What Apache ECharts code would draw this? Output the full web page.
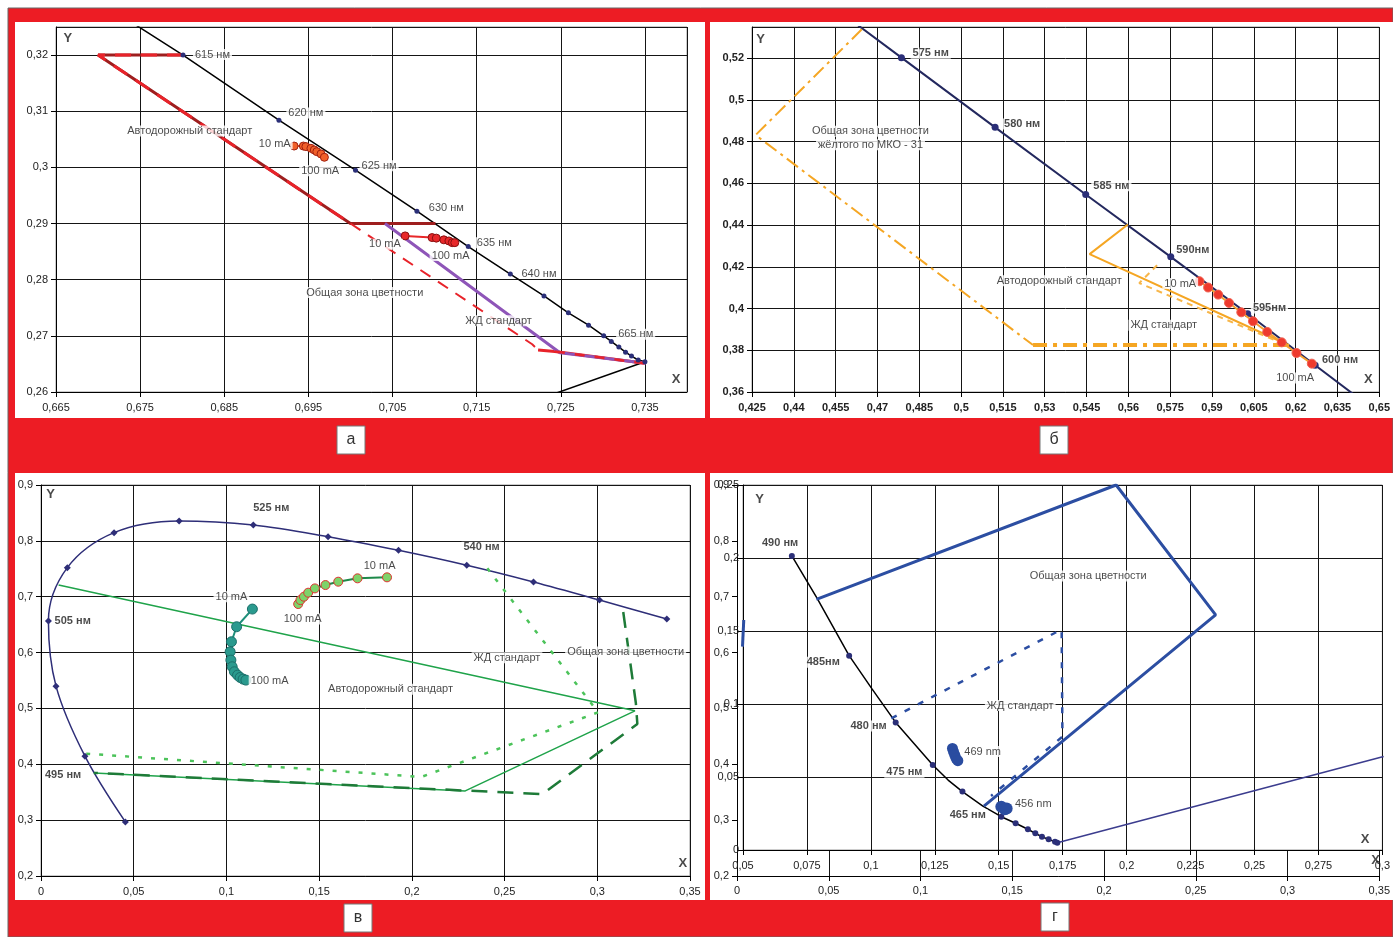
<!DOCTYPE html>
<html>
<head>
<meta charset="utf-8">
<script src="https://cdn.jsdelivr.net/npm/echarts@6/dist/echarts.min.js"></script>
<style>
    html, body { margin: 0; padding: 0; background: #fff; }
    #main { width: 1393px; height: 937px; }
</style>
</head>
<body>
<div id="main"></div>
<script>
// ---- panel а (red LEDs) ----
var aLocus = [[0.6735,0.3263],[0.6801,0.3200],[0.6915,0.3084],[0.7006,0.2995],[0.7079,0.2922],[0.7140,0.2859],
    [0.7190,0.2810],[0.7230,0.2771],[0.7259,0.2741],[0.7283,0.2719],[0.7301,0.2700],[0.7310,0.2690],
    [0.7319,0.2680],[0.7327,0.2671],[0.7334,0.2664],[0.7342,0.2657],[0.7350,0.2654]];
var aPurples = [[0.7350,0.2654],[0.7235,0.2593]];
var aRoad = [[0.6801,0.3200],[0.6700,0.3200],[0.7000,0.2900],[0.7101,0.2900]];
var aCommon = [[0.7000,0.2900],[0.7216,0.2685],[0.7223,0.2675],[0.7243,0.2672],[0.7350,0.2651]];
var aRail = [[0.7041,0.2900],[0.7249,0.2670],[0.7351,0.2651]];
var aLed1 = [[0.6933,0.3038],[0.6944,0.3038],[0.6947,0.3037],[0.6953,0.3034],[0.6957,0.3031],[0.6960,0.3028],[0.6965,0.3024],[0.6969,0.3018]];
var aLed2 = [[0.7065,0.2878],[0.7097,0.2875],[0.7102,0.2874],[0.7111,0.2871],[0.7117,0.2869],[0.7121,0.2866],[0.7124,0.2866]];
var aText = [[0.6836,0.3201,'615 нм'],[0.6947,0.3097,'620 нм'],[0.7034,0.3003,'625 нм'],[0.7114,0.2928,'630 нм'],
    [0.7171,0.2866,'635 нм'],[0.7224,0.2811,'640 нм'],[0.7339,0.2703,'665 нм'],
    [0.6809,0.3065,'Автодорожный стандарт'],[0.7017,0.2777,'Общая зона цветности'],[0.7176,0.2727,'ЖД стандарт'],
    [0.6910,0.3042,'10 mA'],[0.6964,0.2994,'100 mA'],[0.7041,0.2863,'10 mA'],[0.7119,0.2843,'100 mA']];
var aXY = [[0.6664,0.3230,'Y'],[0.7387,0.2623,'X']];

// ---- panel б (yellow LEDs) ----
var bLocus = [[0.4441,0.5547],[0.4786,0.5203],[0.5122,0.4869],[0.5447,0.4547],[0.5752,0.4248],[0.6028,0.3975],[0.6270,0.3728],[0.6482,0.3514]];
var bCommon = [[0.4644,0.5339],[0.4263,0.4832],[0.5258,0.3825],[0.6188,0.3825]];
var bRoad = [[0.5598,0.4403],[0.5461,0.4261],[0.6176,0.3824]];
var bRail = [[0.5703,0.4208],[0.5639,0.4122],[0.6176,0.3820]];
var bLed = [[0.5855,0.4131],[0.5886,0.4101],[0.5922,0.4067],[0.5961,0.4027],[0.6005,0.3982],[0.6047,0.3939],
    [0.6098,0.3888],[0.6150,0.3838],[0.6203,0.3787],[0.6258,0.3736]];
var bTextBold = [[0.4891,0.5224,'575 нм'],[0.5219,0.4885,'580 нм'],[0.5539,0.4589,'585 нм'],[0.5831,0.4283,'590нм'],
    [0.6106,0.4003,'595нм'],[0.6359,0.3752,'600 нм']];
var bText = [[0.4675,0.4850,'Общая зона цветности'],[0.4675,0.4786,'жёлтого по МКО - 31'],[0.5352,0.4133,'Автодорожный стандарт'],
    [0.5727,0.3920,'ЖД стандарт'],[0.5786,0.4120,'10 mA'],[0.6198,0.3667,'100 mA']];
var bXY = [[0.4281,0.5291,'Y'],[0.6461,0.3659,'X']];

// ---- panel в (green LEDs) ----
var cLocus = [[0.0455,0.2968],[0.0237,0.4145],[0.0081,0.5399],[0.0040,0.6564],[0.0142,0.7520],[0.0394,0.8147],
    [0.0745,0.8356],[0.1145,0.8284],[0.1548,0.8075],[0.1928,0.7830],[0.2296,0.7562],[0.2656,0.7263],[0.3012,0.6940],[0.3375,0.6600]];
var cRoad = [[0.0095,0.7209],[0.3203,0.4957],[0.2288,0.3523],[0.0285,0.3846]];
var cCommon = [[0.3140,0.6726],[0.3208,0.5097],[0.3216,0.4722],[0.2703,0.3464],[0.0285,0.3846]];
var cRail = [[0.2407,0.7508],[0.3005,0.4930],[0.2051,0.3774],[0.0237,0.4192]];
var cLedA = [[0.1140,0.6779],[0.1055,0.6462],[0.1027,0.6194],[0.1020,0.6014],[0.1024,0.5865],[0.1031,0.5746],
    [0.1043,0.5656],[0.1060,0.5596],[0.1074,0.5554],[0.1090,0.5525],[0.1105,0.5507]];
var cLedB = [[0.1387,0.6869],[0.1399,0.6940],[0.1418,0.7000],[0.1441,0.7072],[0.1477,0.7149],[0.1534,0.7209],
    [0.1603,0.7269],[0.1707,0.7329],[0.1866,0.7347]];
var cTextBold = [[0.1242,0.8583,'525 нм'],[0.2376,0.7884,'540 нм'],[0.0171,0.6564,'505 нм'],[0.0119,0.3804,'495 нм']];
var cText = [[0.1826,0.7556,'10 mA'],[0.1411,0.6600,'100 mA'],[0.1027,0.7000,'10 mA'],[0.1233,0.5489,'100 mA'],
    [0.2513,0.5907,'ЖД стандарт'],[0.3153,0.6008,'Общая зона цветности'],[0.1885,0.5345,'Автодорожный стандарт']];
var cXY = [[0.0052,0.8840,'Y'],[0.3462,0.2221,'X']];

// ---- panel г (blue LEDs), inner axes ----
var dLocus = [[0.0691,0.2014],[0.0790,0.1724],[0.0915,0.1331],[0.1003,0.1107],[0.1097,0.0874],[0.1166,0.0735],
    [0.1242,0.0582],[0.1302,0.0479],[0.1358,0.0400],[0.1438,0.0301],[0.1510,0.0228],[0.1566,0.0183],
    [0.1614,0.0142],[0.1643,0.0114],[0.1669,0.0091],[0.1695,0.0073],[0.1720,0.0057],[0.1729,0.0050]];
var dMarkIdx = [0, 2, 4, 6, 8, 10, 11, 12, 13, 14, 15, 16, 17];
var dCommon = [[0.0787,0.1717],[0.1959,0.2500],[0.2348,0.1610],[0.1442,0.0301]];
var dRail = [[0.1080,0.0902],[0.1746,0.1511],[0.1749,0.0776],[0.1470,0.0370]];
var dPurples = [[0.1729,0.0050],[0.3005,0.0640]];
var dFrag = [[0.0503,0.1575],[0.0498,0.1393]];
var dBlob469 = [[0.1319,0.0696],[0.1323,0.0674],[0.1328,0.0651],[0.1333,0.0628],[0.1340,0.0612]];
var dBlob456 = [[0.1510,0.0297],[0.1524,0.0279],[0.1531,0.0285]];
var dTextBold = [[0.0645,0.2105,'490 нм'],[0.0814,0.1286,'485нм'],[0.0991,0.0849,'480 нм'],[0.1131,0.0532,'475 нм'],[0.1379,0.0240,'465 нм']];
var dText = [[0.1437,0.0674,'469 nm'],[0.1635,0.0313,'456 nm'],[0.1850,0.1877,'Общая зона цветности'],[0.1584,0.0989,'ЖД стандарт']];
var dXY = [[0.0565,0.2404,'Y'],[0.2932,0.0073,'X']];
var dOuterXY = [[0.3480,0.2280,'X']];

var FONT = '"Liberation Sans", Arial, sans-serif';
var fmt = function (v) { return String(+(+v).toFixed(3)).replace('.', ','); };

function axis(gi, min, max, step, pos, o) {
    o = o || {};
    return {
        type: 'value', gridIndex: gi, min: min, max: max, interval: step, position: pos,
        z: o.z || 0,
        axisLine: { show: true, onZero: false, lineStyle: { color: '#000', width: 1 } },
        axisTick: { show: true, length: 5, lineStyle: { color: '#000' } },
        axisLabel: {
            formatter: fmt, color: '#222', fontSize: 11, fontFamily: FONT,
            fontWeight: o.bold ? 'bold' : 'normal', margin: o.margin || 8,
            showMaxLabel: o.showMax !== false, showMinLabel: true
        },
        splitLine: { show: o.split !== false, lineStyle: { color: '#151515', width: 1 } }
    };
}

function line(gi, data, color, width, type, z) {
    return {
        type: 'line', xAxisIndex: gi, yAxisIndex: gi, data: data, symbol: 'none', showSymbol: false,
        silent: true, z: z || 2, lineStyle: { color: color, width: width, type: type || 'solid' }
    };
}

function dots(gi, data, size, fill, stroke, symbol, z) {
    return {
        type: 'scatter', xAxisIndex: gi, yAxisIndex: gi, data: data, symbol: symbol || 'circle',
        symbolSize: size, silent: true, z: z || 4,
        itemStyle: { color: fill, borderColor: stroke || fill, borderWidth: stroke ? 1 : 0, opacity: 1 }
    };
}

function ledLine(gi, data, lineColor, size, fill, stroke, z) {
    return {
        type: 'line', xAxisIndex: gi, yAxisIndex: gi, data: data, symbol: 'circle', symbolSize: size,
        showSymbol: true, silent: true, z: z || 4,
        lineStyle: { color: lineColor, width: 2 },
        itemStyle: { color: fill, borderColor: stroke, borderWidth: 1 }
    };
}

function texts(gi, data, bold, plain, size, z) {
    return {
        type: 'scatter', xAxisIndex: gi, yAxisIndex: gi, data: data, symbolSize: 0, silent: true, z: z || 6,
        label: {
            show: true, position: 'inside', formatter: function (p) { return p.data[2]; },
            color: '#1a1a1a', fontSize: size || 11, fontFamily: FONT, fontWeight: bold ? 'bold' : 'normal',
            backgroundColor: plain ? 'transparent' : '#fff', padding: plain ? 0 : [0, 2]
        }
    };
}

function box(x, y, letter) {
    return {
        type: 'group', z: 10, children: [
            { type: 'rect', shape: { x: x, y: y, width: 28, height: 28 }, style: { fill: '#fff', stroke: '#777', lineWidth: 1 } },
            { type: 'text', x: x + 14, y: y + 14, style: { text: letter, fill: '#333', font: '16px ' + FONT, align: 'center', verticalAlign: 'middle' } }
        ]
    };
}

var gridBase = { show: true, containLabel: false, borderColor: '#999', borderWidth: 1, backgroundColor: '#fff' };

var chart = echarts.init(document.getElementById('main'), null, { renderer: 'canvas' });

chart.setOption({
    animation: false,
    backgroundColor: '#fff',
    graphic: { elements: [
        { type: 'rect', z: -20, shape: { x: 8, y: 8, width: 1385, height: 929 }, style: { fill: '#ED1C24', stroke: '#666', lineWidth: 1 } },
        { type: 'rect', z: -10, shape: { x: 15, y: 22, width: 690, height: 396 }, style: { fill: '#fff' } },
        { type: 'rect', z: -10, shape: { x: 710, y: 22, width: 683, height: 396 }, style: { fill: '#fff' } },
        { type: 'rect', z: -10, shape: { x: 15, y: 473, width: 690, height: 427 }, style: { fill: '#fff' } },
        { type: 'rect', z: -10, shape: { x: 710, y: 473, width: 683, height: 427 }, style: { fill: '#fff' } },
        box(337, 426, 'а'),
        box(1040, 426, 'б'),
        box(344, 904, 'в'),
        box(1041, 903, 'г')
    ] },
    grid: [
        Object.assign({}, gridBase, { left: 56, top: 27, width: 631, height: 365 }),
        Object.assign({}, gridBase, { left: 752, top: 27, width: 629, height: 365 }),
        Object.assign({}, gridBase, { left: 41, top: 485, width: 649, height: 391 }),
        Object.assign({}, gridBase, { left: 737, top: 485, width: 646, height: 391, show: false }),
        Object.assign({}, gridBase, { left: 743, top: 485, width: 640, height: 365, z: 1 })
    ],
    xAxis: [
        axis(0, 0.665, 0.74, 0.01, 'bottom', { showMax: false, margin: 10 }),
        axis(1, 0.425, 0.65, 0.015, 'bottom', { bold: true, margin: 10 }),
        axis(2, 0, 0.35, 0.05, 'bottom', { margin: 10 }),
        axis(3, 0, 0.35, 0.05, 'bottom', { margin: 9 }),
        axis(4, 0.05, 0.3, 0.025, 'bottom', { margin: 10, z: 2 })
    ],
    yAxis: [
        axis(0, 0.26, 0.325, 0.01, 'left', { showMax: false }),
        axis(1, 0.36, 0.535, 0.02, 'left', { bold: true, showMax: false }),
        axis(2, 0.2, 0.9, 0.1, 'left', {}),
        axis(3, 0.2, 0.9, 0.1, 'left', { split: false }),
        axis(4, 0, 0.25, 0.05, 'left', { margin: 4, z: 2 })
    ],
    series: [
        // а
        line(0, aLocus, '#000', 1.5),
        line(0, aPurples, '#000', 1.5),
        dots(0, aLocus.slice(1), 5, '#2B2F78'),
        line(0, aRoad, '#9E1E1E', 3),
        line(0, aRoad.slice(0, 3), '#E8232A', 3, [16, 10]),
        line(0, aCommon.slice(0, 3), '#E8232A', 2, [12, 9]),
        line(0, aCommon.slice(2), '#E8232A', 3),
        line(0, aRail, '#8E55B8', 3, 'solid', 3),
        line(0, aCommon.slice(3), '#E8232A', 2.5, [10, 10], 3),
        ledLine(0, aLed1, '#E8502A', 8, '#F0602A', '#A02010'),
        ledLine(0, aLed2, '#E8282A', 8, '#E8282A', '#8A1010'),
        texts(0, aText),
        texts(0, aXY, true, true, 13),

        // б
        line(1, bLocus, '#23285E', 2),
        dots(1, bLocus.slice(1, -1), 7, '#2B2F78'),
        line(1, bCommon.slice(0, 3), '#F5A623', 2, [14, 5, 3, 5]),
        line(1, bCommon.slice(2), '#F5A623', 4, [14, 6, 4, 6]),
        line(1, bRoad, '#F5A623', 2),
        line(1, bRail, '#F7B64A', 2, [6, 5]),
        ledLine(1, bLed, '#F5A030', 9, '#EE3A2E', '#F06050', 5),
        texts(1, bTextBold, true),
        texts(1, bText),
        texts(1, bXY, true, true, 13),

        // в
        Object.assign(line(2, cLocus, '#2E2E78', 1.5), { smooth: 0.35 }),
        dots(2, cLocus, 7, '#2E2E78', null, 'diamond'),
        line(2, cRoad, '#1FA34A', 1.5),
        line(2, cCommon, '#1E7B38', 2.5, [16, 10]),
        line(2, cRail, '#4CC35A', 2.5, [4, 9]),
        ledLine(2, cLedA, '#1F8F7A', 10, '#2A9A8E', '#1B6F6A'),
        ledLine(2, cLedB, '#1E8A4A', 9, '#7ED36A', '#E03030'),
        texts(2, cTextBold, true),
        texts(2, cText),
        texts(2, cXY, true, true, 13),

        // г outer marks
        texts(3, dOuterXY, true, true, 13),

        // г inner
        line(4, dLocus, '#000', 1.5, 'solid', 3),
        dots(4, dMarkIdx.map(function (i) { return dLocus[i]; }), 6, '#2B2F78', null, 'circle', 4),
        line(4, dCommon, '#2C4EA2', 3, 'solid', 3),
        line(4, dRail, '#2C4EA2', 2.5, [6, 9], 3),
        line(4, dPurples, '#3B3C8E', 1.5, 'solid', 3),
        Object.assign(line(4, dFrag, '#2C4EA2', 3, 'solid', 3), { clip: false }),
        dots(4, dBlob469, 11, '#2A4CA0', null, 'circle', 4),
        dots(4, dBlob456, 12, '#2A4CA0', null, 'circle', 4),
        texts(4, dTextBold, true),
        texts(4, dText),
        texts(4, dXY, true, true, 13)
    ]
});
</script>
</body>
</html>
